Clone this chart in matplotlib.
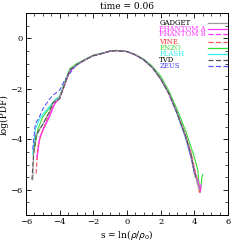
import numpy as np
import matplotlib.pyplot as plt
from matplotlib.ticker import MultipleLocator

# --------------------------- Data ---------------------------
codes = ['GADGET', 'PHANTOM A', 'PHANTOM B', 'VINE', 'ENZO', 'FLASH', 'TVD', 'ZEUS']
colors = ['#999999', '#ff33ff', '#ff33ff', '#ff5555', '#33dd33', '#33eeee', '#555555', '#5555ff']
text_colors = ['#000000', '#ff33ff', '#ff33ff', '#ff3333', '#33dd33', '#33eeee', '#000000', '#4444ff']
styles = ['-', '-', '--', '--', '-', '-', '--', '--']
# legend row heights in axes fraction
legend_y = [0.953, 0.923, 0.897, 0.859, 0.829, 0.800, 0.770, 0.738]

s_gadget = [-5.6, -5.55, -5.4, -5.0, -4.6, -4.4, -4.0, -3.8, -3.4, -3.0, -2.5, -2.0, -1.5, -1.0, -0.6, 0.0, 0.5, 1.0, 1.5, 2.0, 2.5, 3.0, 3.5, 3.8, 4.0, 4.2, 4.3]
y_gadget = [-5.6, -4.5, -3.8, -3.4, -2.9, -2.55, -2.35, -2.0, -1.25, -1.05, -0.85, -0.68, -0.6, -0.5, -0.48, -0.52, -0.65, -0.85, -1.15, -1.6, -2.2, -3.0, -3.9, -4.6, -5.3, -5.8, -6.0]

s_phantA = [-5.35, -5.2, -5.0, -4.6, -4.3, -4.0, -3.8, -3.4, -3.0, -2.5, -2.0, -1.5, -1.0, -0.6, 0.0, 0.5, 1.0, 1.5, 2.0, 2.5, 3.0, 3.5, 3.8, 4.0, 4.2, 4.35, 4.4]
y_phantA = [-4.8, -4.0, -3.65, -3.1, -2.6, -2.35, -2.0, -1.3, -1.05, -0.85, -0.68, -0.6, -0.5, -0.48, -0.52, -0.65, -0.85, -1.15, -1.6, -2.2, -3.0, -3.95, -4.7, -5.3, -5.6, -6.1, -5.8]

s_phantB = [-5.35, -5.2, -5.0, -4.6, -4.3, -4.0, -3.8, -3.4, -3.0, -2.5, -2.0, -1.5, -1.0, -0.6, 0.0, 0.5, 1.0, 1.5, 2.0, 2.5, 3.0, 3.5, 3.8, 4.0, 4.2, 4.4]
y_phantB = [-4.7, -3.95, -3.6, -3.05, -2.6, -2.35, -2.0, -1.3, -1.05, -0.85, -0.68, -0.6, -0.5, -0.48, -0.52, -0.65, -0.85, -1.15, -1.6, -2.2, -3.0, -3.9, -4.6, -5.2, -5.7, -6.0]

s_vine = [-5.4, -5.3, -5.1, -4.8, -4.5, -4.2, -4.0, -3.8, -3.4, -3.0, -2.5, -2.0, -1.5, -1.0, -0.6, 0.0, 0.5, 1.0, 1.5, 2.0, 2.5, 3.0, 3.5, 3.8, 4.0, 4.2, 4.3, 4.4]
y_vine = [-5.35, -4.3, -3.8, -3.3, -2.8, -2.45, -2.35, -2.0, -1.3, -1.05, -0.85, -0.68, -0.6, -0.5, -0.48, -0.52, -0.65, -0.85, -1.15, -1.6, -2.2, -3.0, -3.85, -4.5, -5.1, -5.7, -6.1, -5.9]

s_enzo = [-5.5, -5.3, -5.0, -4.6, -4.3, -4.0, -3.8, -3.4, -3.0, -2.5, -2.0, -1.5, -1.0, -0.6, 0.0, 0.5, 1.0, 1.5, 2.0, 2.5, 3.0, 3.5, 3.9, 4.1, 4.2, 4.3, 4.35, 4.45, 4.5]
y_enzo = [-4.4, -3.6, -3.1, -2.75, -2.45, -2.3, -1.9, -1.2, -1.0, -0.83, -0.66, -0.58, -0.5, -0.47, -0.52, -0.64, -0.82, -1.1, -1.5, -2.1, -2.85, -3.7, -4.5, -4.95, -5.2, -5.9, -6.1, -5.5, -5.4]

s_flash = [-5.6, -5.45, -5.2, -5.0, -4.6, -4.3, -4.0, -3.8, -3.4, -3.0, -2.5, -2.0, -1.5, -1.0, -0.6, 0.0, 0.5, 1.0, 1.5, 2.0, 2.5, 3.0, 3.5, 3.8, 4.0, 4.2]
y_flash = [-4.6, -3.6, -3.2, -3.0, -2.7, -2.45, -2.3, -1.95, -1.25, -1.05, -0.85, -0.68, -0.6, -0.5, -0.48, -0.52, -0.65, -0.85, -1.15, -1.6, -2.2, -3.05, -4.0, -4.7, -5.2, -5.7]

s_tvd = [-5.65, -5.55, -5.4, -5.0, -4.6, -4.4, -4.0, -3.8, -3.4, -3.0, -2.5, -2.0, -1.5, -1.0, -0.6, 0.0, 0.5, 1.0, 1.5, 2.0, 2.5, 3.0, 3.5, 3.8, 4.0, 4.1]
y_tvd = [-5.6, -4.6, -3.85, -3.4, -2.9, -2.55, -2.4, -2.0, -1.25, -1.05, -0.85, -0.68, -0.6, -0.5, -0.48, -0.52, -0.65, -0.85, -1.15, -1.6, -2.2, -3.0, -3.9, -4.6, -5.3, -5.5]

s_zeus = [-5.6, -5.45, -5.2, -5.0, -4.6, -4.4, -4.0, -3.7, -3.3, -3.0, -2.5, -2.0, -1.5, -1.0, -0.6, 0.0, 0.5, 1.0, 1.5, 2.0, 2.5, 3.0, 3.5, 3.8, 3.95, 4.05]
y_zeus = [-4.4, -3.4, -3.1, -2.8, -2.4, -2.25, -2.05, -1.65, -1.3, -1.05, -0.85, -0.68, -0.6, -0.5, -0.48, -0.52, -0.65, -0.85, -1.15, -1.6, -2.2, -3.0, -3.95, -4.7, -5.2, -5.5]

xs = [s_gadget, s_phantA, s_phantB, s_vine, s_enzo, s_flash, s_tvd, s_zeus]
ys = [y_gadget, y_phantA, y_phantB, y_vine, y_enzo, y_flash, y_tvd, y_zeus]

# --------------------------- Plot ---------------------------
plt.rcParams['font.family'] = 'DejaVu Serif'
fig = plt.figure(figsize=(2.41, 2.41), dpi=100)
ax = fig.add_axes([0.108, 0.108, 0.838, 0.837])

def dash(st):
    return (4, 2) if st == '--' else (None, None)

draw_order = [4, 5, 1, 3, 2, 7, 0, 6]
for i in draw_order:
    ax.plot(xs[i], ys[i], color=colors[i], ls=styles[i], lw=0.8, dashes=dash(styles[i]))

# legend drawn by hand, like the original
for k, name in enumerate(codes):
    yy = legend_y[k]
    ax.text(0.66, yy, name, transform=ax.transAxes, color=text_colors[k], fontsize=5, va='center', ha='left')
    ax.plot([0.9, 1.0], [yy, yy], transform=ax.transAxes, color=colors[k], ls=styles[k], lw=0.9,
            dashes=dash(styles[k]))

ax.set_xlim(-6, 6)
ax.set_ylim(-7, 1)
ax.xaxis.set_major_locator(MultipleLocator(2))
ax.xaxis.set_minor_locator(MultipleLocator(0.5))
ax.yaxis.set_major_locator(MultipleLocator(2))
ax.yaxis.set_minor_locator(MultipleLocator(0.5))
ax.tick_params(which='both', direction='in', top=True, right=True, labelsize=6, pad=2.5)
ax.tick_params(which='major', length=3.6, width=0.6)
ax.tick_params(which='minor', length=2, width=0.5)
for sp in ax.spines.values():
    sp.set_linewidth(0.7)

ax.set_title('time = 0.06', fontsize=6.5, pad=3)
ax.set_xlabel(r's = ln($\rho/\rho_0$)', fontsize=6.5, labelpad=1)
ax.set_ylabel('log(PDF)', fontsize=6.5, labelpad=1)

fig.savefig('out.png', dpi=100)
